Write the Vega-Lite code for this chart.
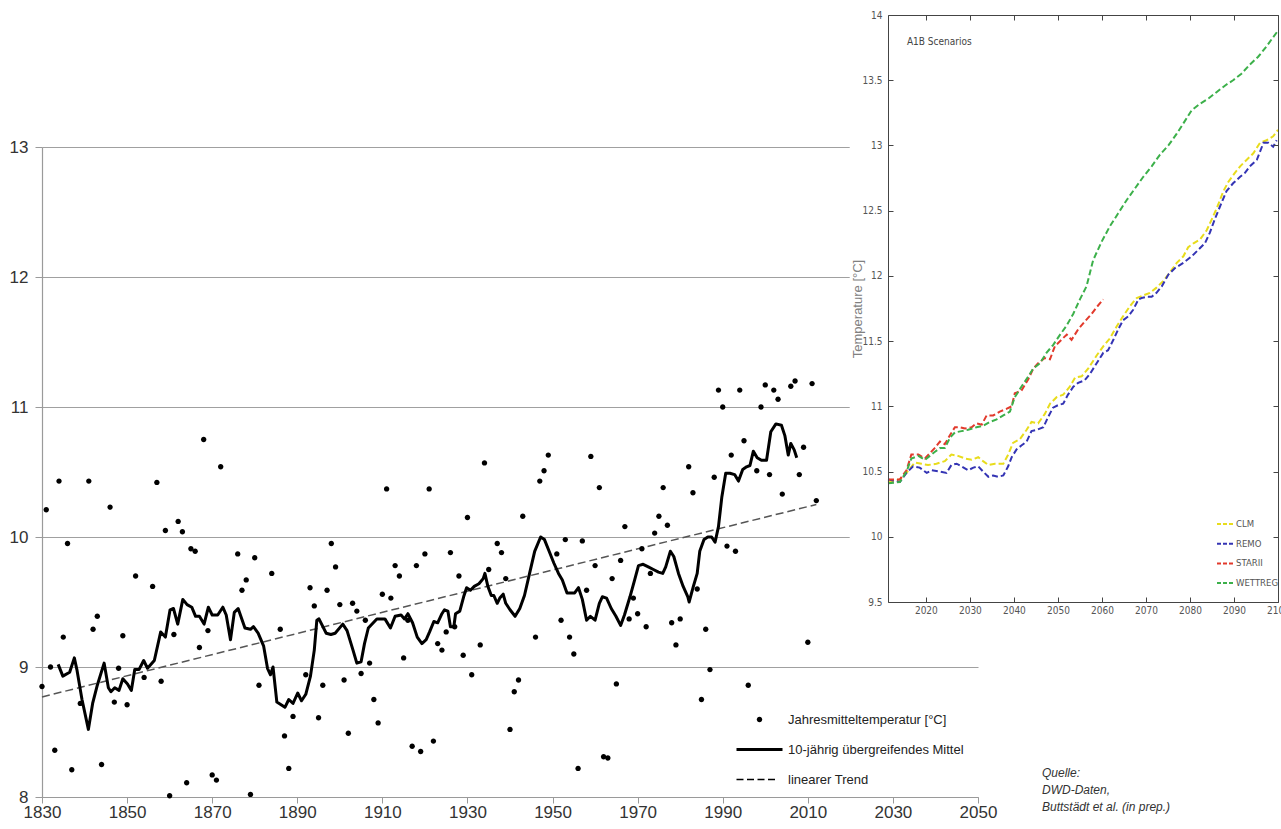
{
  "$schema": "https://vega.github.io/schema/vega-lite/v6.json",
  "width": 1236,
  "height": 782,
  "autosize": {"type": "none"},
  "padding": {"left": 42, "top": 15, "right": 3, "bottom": 32},
  "background": "white",
  "view": {"stroke": null},
  "config": {"font": "Liberation Sans"},
  "title": {
    "text": ["Quelle:", "DWD-Daten,", "Buttstädt et al. (in prep.)"],
    "orient": "bottom",
    "anchor": "start",
    "frame": "group",
    "align": "left",
    "baseline": "top",
    "font": "Liberation Sans",
    "fontStyle": "italic",
    "fontWeight": "normal",
    "fontSize": 12,
    "color": "#333",
    "lineHeight": 17,
    "offset": 0,
    "dx": 1000,
    "dy": -52
  },
  "datasets": {
    "obs": [
      {"year": 1830, "temp": 8.85}, {"year": 1831, "temp": 10.21}, {"year": 1832, "temp": 9.0}, {"year": 1833, "temp": 8.36},
      {"year": 1834, "temp": 10.43}, {"year": 1835, "temp": 9.23}, {"year": 1836, "temp": 9.95}, {"year": 1837, "temp": 8.21},
      {"year": 1839, "temp": 8.72}, {"year": 1841, "temp": 10.43}, {"year": 1842, "temp": 9.29}, {"year": 1843, "temp": 9.39},
      {"year": 1844, "temp": 8.25}, {"year": 1846, "temp": 10.23}, {"year": 1847, "temp": 8.73}, {"year": 1848, "temp": 8.99},
      {"year": 1849, "temp": 9.24}, {"year": 1850, "temp": 8.71}, {"year": 1852, "temp": 9.7}, {"year": 1854, "temp": 8.92},
      {"year": 1856, "temp": 9.62}, {"year": 1857, "temp": 10.42}, {"year": 1858, "temp": 8.89}, {"year": 1859, "temp": 10.05},
      {"year": 1860, "temp": 8.01}, {"year": 1861, "temp": 9.25}, {"year": 1862, "temp": 10.12}, {"year": 1863, "temp": 10.04},
      {"year": 1864, "temp": 8.11}, {"year": 1865, "temp": 9.91}, {"year": 1866, "temp": 9.89}, {"year": 1867, "temp": 9.15},
      {"year": 1868, "temp": 10.75}, {"year": 1869, "temp": 9.28}, {"year": 1870, "temp": 8.17}, {"year": 1871, "temp": 8.13},
      {"year": 1872, "temp": 10.54}, {"year": 1876, "temp": 9.87}, {"year": 1877, "temp": 9.59}, {"year": 1878, "temp": 9.67},
      {"year": 1879, "temp": 8.02}, {"year": 1880, "temp": 9.84}, {"year": 1881, "temp": 8.86}, {"year": 1884, "temp": 9.72},
      {"year": 1886, "temp": 9.29}, {"year": 1887, "temp": 8.47}, {"year": 1888, "temp": 8.22}, {"year": 1889, "temp": 8.62},
      {"year": 1892, "temp": 8.94}, {"year": 1893, "temp": 9.61}, {"year": 1894, "temp": 9.47}, {"year": 1895, "temp": 8.61},
      {"year": 1896, "temp": 8.86}, {"year": 1897, "temp": 9.59}, {"year": 1898, "temp": 9.95}, {"year": 1899, "temp": 9.77},
      {"year": 1900, "temp": 9.48}, {"year": 1901, "temp": 8.9}, {"year": 1902, "temp": 8.49}, {"year": 1903, "temp": 9.49},
      {"year": 1904, "temp": 9.43}, {"year": 1905, "temp": 8.95}, {"year": 1906, "temp": 9.36}, {"year": 1907, "temp": 9.03},
      {"year": 1908, "temp": 8.75}, {"year": 1909, "temp": 8.57}, {"year": 1910, "temp": 9.56}, {"year": 1911, "temp": 10.37},
      {"year": 1912, "temp": 9.53}, {"year": 1913, "temp": 9.78}, {"year": 1914, "temp": 9.7}, {"year": 1915, "temp": 9.07},
      {"year": 1916, "temp": 9.36}, {"year": 1917, "temp": 8.39}, {"year": 1918, "temp": 9.78}, {"year": 1919, "temp": 8.35},
      {"year": 1920, "temp": 9.87}, {"year": 1921, "temp": 10.37}, {"year": 1922, "temp": 8.43}, {"year": 1923, "temp": 9.18},
      {"year": 1924, "temp": 9.13}, {"year": 1925, "temp": 9.27}, {"year": 1926, "temp": 9.88}, {"year": 1927, "temp": 9.31},
      {"year": 1928, "temp": 9.7}, {"year": 1929, "temp": 9.09}, {"year": 1930, "temp": 10.15}, {"year": 1931, "temp": 8.94},
      {"year": 1933, "temp": 9.17}, {"year": 1934, "temp": 10.57}, {"year": 1935, "temp": 9.75}, {"year": 1937, "temp": 9.95},
      {"year": 1938, "temp": 9.88}, {"year": 1939, "temp": 9.68}, {"year": 1940, "temp": 8.52}, {"year": 1941, "temp": 8.81},
      {"year": 1942, "temp": 8.9}, {"year": 1943, "temp": 10.16}, {"year": 1946, "temp": 9.23}, {"year": 1947, "temp": 10.43},
      {"year": 1948, "temp": 10.51}, {"year": 1949, "temp": 10.63}, {"year": 1951, "temp": 9.87}, {"year": 1952, "temp": 9.36},
      {"year": 1953, "temp": 9.98}, {"year": 1954, "temp": 9.23}, {"year": 1955, "temp": 9.1}, {"year": 1956, "temp": 8.22},
      {"year": 1957, "temp": 9.97}, {"year": 1958, "temp": 9.59}, {"year": 1959, "temp": 10.62}, {"year": 1960, "temp": 9.78},
      {"year": 1961, "temp": 10.38}, {"year": 1962, "temp": 8.31}, {"year": 1963, "temp": 8.3}, {"year": 1964, "temp": 9.68},
      {"year": 1965, "temp": 8.87}, {"year": 1966, "temp": 9.82}, {"year": 1967, "temp": 10.08}, {"year": 1968, "temp": 9.37},
      {"year": 1969, "temp": 9.53}, {"year": 1970, "temp": 9.41}, {"year": 1971, "temp": 9.91}, {"year": 1972, "temp": 9.31},
      {"year": 1973, "temp": 9.72}, {"year": 1974, "temp": 10.03}, {"year": 1975, "temp": 10.16}, {"year": 1976, "temp": 10.38},
      {"year": 1977, "temp": 10.09}, {"year": 1978, "temp": 9.34}, {"year": 1979, "temp": 9.17}, {"year": 1980, "temp": 9.37},
      {"year": 1982, "temp": 10.54}, {"year": 1983, "temp": 10.34}, {"year": 1984, "temp": 9.6}, {"year": 1985, "temp": 8.75},
      {"year": 1986, "temp": 9.29}, {"year": 1987, "temp": 8.98}, {"year": 1988, "temp": 10.46}, {"year": 1989, "temp": 11.13},
      {"year": 1990, "temp": 11.0}, {"year": 1991, "temp": 9.93}, {"year": 1992, "temp": 10.63}, {"year": 1993, "temp": 9.89},
      {"year": 1994, "temp": 11.13}, {"year": 1995, "temp": 10.74}, {"year": 1996, "temp": 8.86}, {"year": 1998, "temp": 10.51},
      {"year": 1999, "temp": 11.0}, {"year": 2000, "temp": 11.17}, {"year": 2001, "temp": 10.48}, {"year": 2002, "temp": 11.13},
      {"year": 2003, "temp": 11.06}, {"year": 2004, "temp": 10.33}, {"year": 2006, "temp": 11.16}, {"year": 2007, "temp": 11.2},
      {"year": 2008, "temp": 10.48}, {"year": 2009, "temp": 10.69}, {"year": 2010, "temp": 9.19}, {"year": 2011, "temp": 11.18},
      {"year": 2012, "temp": 10.28}
    ],
    "ma": [
      {"year": 1833.8, "temp": 9.02}, {"year": 1834.9, "temp": 8.93}, {"year": 1836.5, "temp": 8.96}, {"year": 1837.6, "temp": 9.07},
      {"year": 1838.2, "temp": 8.98}, {"year": 1839.4, "temp": 8.75}, {"year": 1840.9, "temp": 8.52}, {"year": 1841.9, "temp": 8.72},
      {"year": 1843.0, "temp": 8.86}, {"year": 1844.6, "temp": 9.03}, {"year": 1845.6, "temp": 8.84}, {"year": 1846.2, "temp": 8.81},
      {"year": 1847.1, "temp": 8.84}, {"year": 1848.1, "temp": 8.82}, {"year": 1849.0, "temp": 8.91}, {"year": 1850.1, "temp": 8.87},
      {"year": 1851.0, "temp": 8.82}, {"year": 1851.8, "temp": 8.98}, {"year": 1852.8, "temp": 8.98}, {"year": 1853.9, "temp": 9.05},
      {"year": 1854.8, "temp": 8.99}, {"year": 1856.4, "temp": 9.05}, {"year": 1857.9, "temp": 9.27}, {"year": 1859.0, "temp": 9.23},
      {"year": 1860.1, "temp": 9.44}, {"year": 1860.9, "temp": 9.45}, {"year": 1861.9, "temp": 9.33}, {"year": 1863.1, "temp": 9.52},
      {"year": 1864.1, "temp": 9.48}, {"year": 1865.2, "temp": 9.46}, {"year": 1866.1, "temp": 9.39}, {"year": 1867.0, "temp": 9.39},
      {"year": 1868.1, "temp": 9.33}, {"year": 1869.1, "temp": 9.46}, {"year": 1870.0, "temp": 9.4}, {"year": 1871.3, "temp": 9.4},
      {"year": 1872.5, "temp": 9.46}, {"year": 1873.3, "temp": 9.4}, {"year": 1874.3, "temp": 9.21}, {"year": 1875.2, "temp": 9.42},
      {"year": 1876.1, "temp": 9.45}, {"year": 1877.7, "temp": 9.3}, {"year": 1879.0, "temp": 9.29}, {"year": 1879.7, "temp": 9.31},
      {"year": 1880.8, "temp": 9.26}, {"year": 1882.1, "temp": 9.16}, {"year": 1883.0, "temp": 8.99}, {"year": 1883.7, "temp": 8.94},
      {"year": 1884.3, "temp": 9.0}, {"year": 1884.9, "temp": 8.82}, {"year": 1885.2, "temp": 8.73}, {"year": 1887.1, "temp": 8.69},
      {"year": 1888.0, "temp": 8.75}, {"year": 1889.0, "temp": 8.72}, {"year": 1890.1, "temp": 8.8}, {"year": 1891.0, "temp": 8.74},
      {"year": 1892.0, "temp": 8.79}, {"year": 1893.1, "temp": 8.93}, {"year": 1894.0, "temp": 9.13}, {"year": 1894.6, "temp": 9.36},
      {"year": 1895.1, "temp": 9.37}, {"year": 1896.8, "temp": 9.26}, {"year": 1897.9, "temp": 9.25}, {"year": 1898.9, "temp": 9.26},
      {"year": 1900.7, "temp": 9.33}, {"year": 1901.7, "temp": 9.28}, {"year": 1903.1, "temp": 9.13}, {"year": 1904.0, "temp": 9.03},
      {"year": 1905.0, "temp": 9.04}, {"year": 1905.8, "temp": 9.18}, {"year": 1906.7, "temp": 9.3}, {"year": 1908.7, "temp": 9.37},
      {"year": 1910.6, "temp": 9.37}, {"year": 1911.9, "temp": 9.3}, {"year": 1913.0, "temp": 9.39}, {"year": 1914.4, "temp": 9.4},
      {"year": 1915.2, "temp": 9.37}, {"year": 1916.0, "temp": 9.41}, {"year": 1917.1, "temp": 9.34}, {"year": 1918.2, "temp": 9.23},
      {"year": 1919.3, "temp": 9.18}, {"year": 1920.3, "temp": 9.21}, {"year": 1921.1, "temp": 9.27}, {"year": 1922.1, "temp": 9.35},
      {"year": 1923.0, "temp": 9.34}, {"year": 1924.0, "temp": 9.41}, {"year": 1924.6, "temp": 9.44}, {"year": 1925.4, "temp": 9.43},
      {"year": 1926.0, "temp": 9.31}, {"year": 1926.8, "temp": 9.31}, {"year": 1927.2, "temp": 9.41}, {"year": 1928.2, "temp": 9.43},
      {"year": 1929.1, "temp": 9.54}, {"year": 1929.8, "temp": 9.61}, {"year": 1930.7, "temp": 9.59}, {"year": 1931.6, "temp": 9.62},
      {"year": 1932.7, "temp": 9.64}, {"year": 1933.7, "temp": 9.68}, {"year": 1934.1, "temp": 9.72}, {"year": 1934.8, "temp": 9.62},
      {"year": 1935.6, "temp": 9.55}, {"year": 1936.2, "temp": 9.55}, {"year": 1937.0, "temp": 9.49}, {"year": 1937.6, "temp": 9.53},
      {"year": 1938.4, "temp": 9.56}, {"year": 1939.0, "temp": 9.49}, {"year": 1940.0, "temp": 9.44}, {"year": 1941.2, "temp": 9.39},
      {"year": 1942.3, "temp": 9.45}, {"year": 1943.4, "temp": 9.55}, {"year": 1944.6, "temp": 9.72}, {"year": 1945.8, "temp": 9.89},
      {"year": 1947.2, "temp": 10.0}, {"year": 1948.1, "temp": 9.98}, {"year": 1949.2, "temp": 9.89}, {"year": 1950.3, "temp": 9.8},
      {"year": 1951.4, "temp": 9.72}, {"year": 1952.3, "temp": 9.67}, {"year": 1953.4, "temp": 9.57}, {"year": 1955.2, "temp": 9.57},
      {"year": 1956.1, "temp": 9.61}, {"year": 1957.0, "temp": 9.52}, {"year": 1958.0, "temp": 9.36}, {"year": 1958.9, "temp": 9.39},
      {"year": 1960.0, "temp": 9.36}, {"year": 1961.0, "temp": 9.49}, {"year": 1961.7, "temp": 9.54}, {"year": 1962.7, "temp": 9.53},
      {"year": 1963.8, "temp": 9.45}, {"year": 1964.9, "temp": 9.39}, {"year": 1966.0, "temp": 9.32}, {"year": 1966.9, "temp": 9.4},
      {"year": 1968.2, "temp": 9.54}, {"year": 1969.3, "temp": 9.67}, {"year": 1970.2, "temp": 9.78}, {"year": 1971.3, "temp": 9.79},
      {"year": 1972.5, "temp": 9.77}, {"year": 1973.7, "temp": 9.75}, {"year": 1974.9, "temp": 9.73}, {"year": 1975.9, "temp": 9.72},
      {"year": 1976.6, "temp": 9.77}, {"year": 1977.7, "temp": 9.89}, {"year": 1978.5, "temp": 9.85}, {"year": 1979.6, "temp": 9.72},
      {"year": 1980.7, "temp": 9.62}, {"year": 1981.8, "temp": 9.54}, {"year": 1982.1, "temp": 9.5}, {"year": 1983.1, "temp": 9.62},
      {"year": 1984.0, "temp": 9.72}, {"year": 1984.6, "temp": 9.89}, {"year": 1985.6, "temp": 9.98}, {"year": 1986.5, "temp": 10.0},
      {"year": 1987.4, "temp": 10.0}, {"year": 1988.2, "temp": 9.96}, {"year": 1989.0, "temp": 10.08}, {"year": 1989.8, "temp": 10.31},
      {"year": 1990.7, "temp": 10.49}, {"year": 1991.7, "temp": 10.49}, {"year": 1992.8, "temp": 10.48}, {"year": 1993.7, "temp": 10.43},
      {"year": 1994.7, "temp": 10.52}, {"year": 1995.6, "temp": 10.54}, {"year": 1996.4, "temp": 10.55}, {"year": 1997.2, "temp": 10.66},
      {"year": 1998.1, "temp": 10.61}, {"year": 1999.1, "temp": 10.59}, {"year": 2000.3, "temp": 10.59}, {"year": 2001.3, "temp": 10.81},
      {"year": 2002.5, "temp": 10.87}, {"year": 2003.8, "temp": 10.86}, {"year": 2004.6, "temp": 10.78}, {"year": 2005.4, "temp": 10.63},
      {"year": 2006.0, "temp": 10.72}, {"year": 2006.8, "temp": 10.67}, {"year": 2007.4, "temp": 10.61}
    ],
    "trend": [{"year": 1830, "temp": 8.77}, {"year": 2012, "temp": 10.25}],
    "scen": [
      {"model": "CLM", "year": 2011.4, "temp": 10.42}, {"model": "CLM", "year": 2014.1, "temp": 10.44}, {"model": "CLM", "year": 2015.6, "temp": 10.49},
      {"model": "CLM", "year": 2017.5, "temp": 10.57}, {"model": "CLM", "year": 2019.0, "temp": 10.56}, {"model": "CLM", "year": 2020.5, "temp": 10.55},
      {"model": "CLM", "year": 2022.4, "temp": 10.56}, {"model": "CLM", "year": 2024.3, "temp": 10.58}, {"model": "CLM", "year": 2025.8, "temp": 10.63},
      {"model": "CLM", "year": 2027.3, "temp": 10.62}, {"model": "CLM", "year": 2028.9, "temp": 10.6}, {"model": "CLM", "year": 2030.4, "temp": 10.59},
      {"model": "CLM", "year": 2031.9, "temp": 10.61}, {"model": "CLM", "year": 2033.0, "temp": 10.58}, {"model": "CLM", "year": 2034.2, "temp": 10.55},
      {"model": "CLM", "year": 2035.7, "temp": 10.56}, {"model": "CLM", "year": 2037.6, "temp": 10.56}, {"model": "CLM", "year": 2038.7, "temp": 10.63},
      {"model": "CLM", "year": 2039.8, "temp": 10.72}, {"model": "CLM", "year": 2041.4, "temp": 10.75}, {"model": "CLM", "year": 2042.9, "temp": 10.82},
      {"model": "CLM", "year": 2044.0, "temp": 10.88}, {"model": "CLM", "year": 2045.5, "temp": 10.87}, {"model": "CLM", "year": 2047.0, "temp": 10.94},
      {"model": "CLM", "year": 2048.2, "temp": 11.02}, {"model": "CLM", "year": 2049.7, "temp": 11.07}, {"model": "CLM", "year": 2051.2, "temp": 11.09},
      {"model": "CLM", "year": 2052.7, "temp": 11.15}, {"model": "CLM", "year": 2053.9, "temp": 11.22}, {"model": "CLM", "year": 2055.4, "temp": 11.23},
      {"model": "CLM", "year": 2056.9, "temp": 11.29}, {"model": "CLM", "year": 2058.8, "temp": 11.39}, {"model": "CLM", "year": 2060.3, "temp": 11.46},
      {"model": "CLM", "year": 2061.8, "temp": 11.52}, {"model": "CLM", "year": 2063.3, "temp": 11.61}, {"model": "CLM", "year": 2064.8, "temp": 11.69},
      {"model": "CLM", "year": 2066.4, "temp": 11.77}, {"model": "CLM", "year": 2067.9, "temp": 11.83}, {"model": "CLM", "year": 2069.4, "temp": 11.85},
      {"model": "CLM", "year": 2070.9, "temp": 11.87}, {"model": "CLM", "year": 2072.4, "temp": 11.91}, {"model": "CLM", "year": 2073.9, "temp": 11.96},
      {"model": "CLM", "year": 2075.5, "temp": 12.03}, {"model": "CLM", "year": 2077.0, "temp": 12.1}, {"model": "CLM", "year": 2078.5, "temp": 12.15},
      {"model": "CLM", "year": 2079.6, "temp": 12.22}, {"model": "CLM", "year": 2080.8, "temp": 12.25}, {"model": "CLM", "year": 2082.3, "temp": 12.28},
      {"model": "CLM", "year": 2083.8, "temp": 12.35}, {"model": "CLM", "year": 2084.9, "temp": 12.43}, {"model": "CLM", "year": 2086.1, "temp": 12.52},
      {"model": "CLM", "year": 2087.6, "temp": 12.65}, {"model": "CLM", "year": 2088.7, "temp": 12.72}, {"model": "CLM", "year": 2090.2, "temp": 12.79},
      {"model": "CLM", "year": 2091.4, "temp": 12.84}, {"model": "CLM", "year": 2092.9, "temp": 12.89}, {"model": "CLM", "year": 2094.4, "temp": 12.94},
      {"model": "CLM", "year": 2095.9, "temp": 13.02}, {"model": "CLM", "year": 2097.4, "temp": 13.04}, {"model": "CLM", "year": 2098.9, "temp": 13.07},
      {"model": "CLM", "year": 2100.0, "temp": 13.12},
      {"model": "REMO", "year": 2011.4, "temp": 10.44}, {"model": "REMO", "year": 2014.1, "temp": 10.42}, {"model": "REMO", "year": 2015.6, "temp": 10.49},
      {"model": "REMO", "year": 2017.1, "temp": 10.54}, {"model": "REMO", "year": 2018.6, "temp": 10.53}, {"model": "REMO", "year": 2020.2, "temp": 10.49},
      {"model": "REMO", "year": 2021.3, "temp": 10.51}, {"model": "REMO", "year": 2023.2, "temp": 10.5}, {"model": "REMO", "year": 2024.7, "temp": 10.49},
      {"model": "REMO", "year": 2025.8, "temp": 10.55}, {"model": "REMO", "year": 2027.0, "temp": 10.56}, {"model": "REMO", "year": 2028.1, "temp": 10.54},
      {"model": "REMO", "year": 2029.6, "temp": 10.51}, {"model": "REMO", "year": 2030.8, "temp": 10.53}, {"model": "REMO", "year": 2031.9, "temp": 10.54},
      {"model": "REMO", "year": 2033.0, "temp": 10.5}, {"model": "REMO", "year": 2034.2, "temp": 10.46}, {"model": "REMO", "year": 2035.3, "temp": 10.47},
      {"model": "REMO", "year": 2036.4, "temp": 10.46}, {"model": "REMO", "year": 2037.6, "temp": 10.47}, {"model": "REMO", "year": 2038.7, "temp": 10.54},
      {"model": "REMO", "year": 2039.5, "temp": 10.61}, {"model": "REMO", "year": 2040.6, "temp": 10.67}, {"model": "REMO", "year": 2041.7, "temp": 10.7},
      {"model": "REMO", "year": 2042.9, "temp": 10.73}, {"model": "REMO", "year": 2044.0, "temp": 10.81}, {"model": "REMO", "year": 2045.2, "temp": 10.82},
      {"model": "REMO", "year": 2046.7, "temp": 10.84}, {"model": "REMO", "year": 2047.8, "temp": 10.92}, {"model": "REMO", "year": 2048.9, "temp": 10.99},
      {"model": "REMO", "year": 2050.1, "temp": 11.01}, {"model": "REMO", "year": 2051.2, "temp": 11.02}, {"model": "REMO", "year": 2052.3, "temp": 11.09},
      {"model": "REMO", "year": 2053.5, "temp": 11.15}, {"model": "REMO", "year": 2054.6, "temp": 11.18}, {"model": "REMO", "year": 2056.1, "temp": 11.2},
      {"model": "REMO", "year": 2057.3, "temp": 11.25}, {"model": "REMO", "year": 2058.8, "temp": 11.33}, {"model": "REMO", "year": 2060.3, "temp": 11.41},
      {"model": "REMO", "year": 2061.4, "temp": 11.43}, {"model": "REMO", "year": 2062.6, "temp": 11.51}, {"model": "REMO", "year": 2063.7, "temp": 11.59},
      {"model": "REMO", "year": 2064.8, "temp": 11.66}, {"model": "REMO", "year": 2066.0, "temp": 11.69}, {"model": "REMO", "year": 2067.1, "temp": 11.74},
      {"model": "REMO", "year": 2068.3, "temp": 11.82}, {"model": "REMO", "year": 2069.0, "temp": 11.83}, {"model": "REMO", "year": 2070.2, "temp": 11.84},
      {"model": "REMO", "year": 2071.3, "temp": 11.84}, {"model": "REMO", "year": 2072.4, "temp": 11.87}, {"model": "REMO", "year": 2073.6, "temp": 11.92},
      {"model": "REMO", "year": 2075.1, "temp": 12.01}, {"model": "REMO", "year": 2076.6, "temp": 12.06}, {"model": "REMO", "year": 2078.5, "temp": 12.1},
      {"model": "REMO", "year": 2080.4, "temp": 12.15}, {"model": "REMO", "year": 2081.9, "temp": 12.2}, {"model": "REMO", "year": 2083.4, "temp": 12.25},
      {"model": "REMO", "year": 2084.5, "temp": 12.33}, {"model": "REMO", "year": 2085.7, "temp": 12.44}, {"model": "REMO", "year": 2086.8, "temp": 12.53},
      {"model": "REMO", "year": 2088.3, "temp": 12.65}, {"model": "REMO", "year": 2089.8, "temp": 12.71}, {"model": "REMO", "year": 2091.4, "temp": 12.76},
      {"model": "REMO", "year": 2092.5, "temp": 12.79}, {"model": "REMO", "year": 2093.6, "temp": 12.84}, {"model": "REMO", "year": 2095.2, "temp": 12.89},
      {"model": "REMO", "year": 2096.7, "temp": 13.02}, {"model": "REMO", "year": 2097.8, "temp": 13.02}, {"model": "REMO", "year": 2098.9, "temp": 12.99},
      {"model": "REMO", "year": 2099.7, "temp": 13.04},
      {"model": "STARII", "year": 2011.4, "temp": 10.44}, {"model": "STARII", "year": 2014.1, "temp": 10.44}, {"model": "STARII", "year": 2015.6, "temp": 10.51},
      {"model": "STARII", "year": 2016.7, "temp": 10.63}, {"model": "STARII", "year": 2018.3, "temp": 10.63}, {"model": "STARII", "year": 2019.8, "temp": 10.6},
      {"model": "STARII", "year": 2020.9, "temp": 10.64}, {"model": "STARII", "year": 2022.0, "temp": 10.68}, {"model": "STARII", "year": 2023.2, "temp": 10.73},
      {"model": "STARII", "year": 2024.3, "temp": 10.71}, {"model": "STARII", "year": 2025.5, "temp": 10.78}, {"model": "STARII", "year": 2026.6, "temp": 10.84},
      {"model": "STARII", "year": 2027.7, "temp": 10.84}, {"model": "STARII", "year": 2028.9, "temp": 10.83}, {"model": "STARII", "year": 2030.4, "temp": 10.84},
      {"model": "STARII", "year": 2031.5, "temp": 10.87}, {"model": "STARII", "year": 2032.7, "temp": 10.86}, {"model": "STARII", "year": 2033.8, "temp": 10.93},
      {"model": "STARII", "year": 2035.3, "temp": 10.93}, {"model": "STARII", "year": 2036.8, "temp": 10.96}, {"model": "STARII", "year": 2038.3, "temp": 10.98},
      {"model": "STARII", "year": 2039.5, "temp": 11.0}, {"model": "STARII", "year": 2040.2, "temp": 11.1}, {"model": "STARII", "year": 2041.7, "temp": 11.12},
      {"model": "STARII", "year": 2043.3, "temp": 11.21}, {"model": "STARII", "year": 2044.4, "temp": 11.29}, {"model": "STARII", "year": 2045.5, "temp": 11.33},
      {"model": "STARII", "year": 2047.0, "temp": 11.37}, {"model": "STARII", "year": 2048.2, "temp": 11.36}, {"model": "STARII", "year": 2049.3, "temp": 11.46},
      {"model": "STARII", "year": 2050.8, "temp": 11.51}, {"model": "STARII", "year": 2052.0, "temp": 11.55}, {"model": "STARII", "year": 2053.1, "temp": 11.51},
      {"model": "STARII", "year": 2054.6, "temp": 11.59}, {"model": "STARII", "year": 2056.1, "temp": 11.65}, {"model": "STARII", "year": 2057.7, "temp": 11.71},
      {"model": "STARII", "year": 2058.8, "temp": 11.76}, {"model": "STARII", "year": 2060.3, "temp": 11.82},
      {"model": "WETTREG", "year": 2011.4, "temp": 10.41}, {"model": "WETTREG", "year": 2014.1, "temp": 10.42}, {"model": "WETTREG", "year": 2015.6, "temp": 10.5},
      {"model": "WETTREG", "year": 2016.7, "temp": 10.6}, {"model": "WETTREG", "year": 2018.3, "temp": 10.62}, {"model": "WETTREG", "year": 2019.8, "temp": 10.59},
      {"model": "WETTREG", "year": 2020.9, "temp": 10.62}, {"model": "WETTREG", "year": 2022.0, "temp": 10.65}, {"model": "WETTREG", "year": 2023.2, "temp": 10.68},
      {"model": "WETTREG", "year": 2024.3, "temp": 10.68}, {"model": "WETTREG", "year": 2025.5, "temp": 10.76}, {"model": "WETTREG", "year": 2026.6, "temp": 10.8},
      {"model": "WETTREG", "year": 2028.1, "temp": 10.81}, {"model": "WETTREG", "year": 2029.6, "temp": 10.82}, {"model": "WETTREG", "year": 2031.5, "temp": 10.84},
      {"model": "WETTREG", "year": 2033.0, "temp": 10.85}, {"model": "WETTREG", "year": 2034.5, "temp": 10.88}, {"model": "WETTREG", "year": 2036.1, "temp": 10.9},
      {"model": "WETTREG", "year": 2037.6, "temp": 10.93}, {"model": "WETTREG", "year": 2039.1, "temp": 10.96}, {"model": "WETTREG", "year": 2040.2, "temp": 11.07},
      {"model": "WETTREG", "year": 2041.7, "temp": 11.15}, {"model": "WETTREG", "year": 2043.3, "temp": 11.23}, {"model": "WETTREG", "year": 2044.4, "temp": 11.29},
      {"model": "WETTREG", "year": 2045.9, "temp": 11.33}, {"model": "WETTREG", "year": 2047.4, "temp": 11.41}, {"model": "WETTREG", "year": 2048.9, "temp": 11.47},
      {"model": "WETTREG", "year": 2050.5, "temp": 11.55}, {"model": "WETTREG", "year": 2052.0, "temp": 11.62}, {"model": "WETTREG", "year": 2053.5, "temp": 11.71},
      {"model": "WETTREG", "year": 2055.0, "temp": 11.82}, {"model": "WETTREG", "year": 2056.5, "temp": 11.92}, {"model": "WETTREG", "year": 2058.0, "temp": 12.12},
      {"model": "WETTREG", "year": 2059.9, "temp": 12.26}, {"model": "WETTREG", "year": 2061.8, "temp": 12.38}, {"model": "WETTREG", "year": 2063.7, "temp": 12.48},
      {"model": "WETTREG", "year": 2065.6, "temp": 12.58}, {"model": "WETTREG", "year": 2067.5, "temp": 12.67}, {"model": "WETTREG", "year": 2069.4, "temp": 12.76},
      {"model": "WETTREG", "year": 2071.3, "temp": 12.84}, {"model": "WETTREG", "year": 2073.2, "temp": 12.93}, {"model": "WETTREG", "year": 2075.1, "temp": 13.0},
      {"model": "WETTREG", "year": 2077.0, "temp": 13.09}, {"model": "WETTREG", "year": 2078.9, "temp": 13.19}, {"model": "WETTREG", "year": 2080.4, "temp": 13.27},
      {"model": "WETTREG", "year": 2082.3, "temp": 13.32}, {"model": "WETTREG", "year": 2084.2, "temp": 13.36}, {"model": "WETTREG", "year": 2086.1, "temp": 13.41},
      {"model": "WETTREG", "year": 2088.0, "temp": 13.46}, {"model": "WETTREG", "year": 2089.8, "temp": 13.5}, {"model": "WETTREG", "year": 2091.7, "temp": 13.55},
      {"model": "WETTREG", "year": 2093.6, "temp": 13.62}, {"model": "WETTREG", "year": 2095.5, "temp": 13.68}, {"model": "WETTREG", "year": 2097.4, "temp": 13.76},
      {"model": "WETTREG", "year": 2098.9, "temp": 13.83}, {"model": "WETTREG", "year": 2100.0, "temp": 13.88}
    ]
  },
  "layer": [
    {
      "layer": [
        {
          "data": {"name": "trend"},
          "mark": {"type": "line", "color": "#555555", "strokeWidth": 1.5, "strokeDash": [8, 4]},
          "encoding": {
            "x": {
              "field": "year", "type": "quantitative", "title": null,
              "scale": {"domain": [1830, 2050], "range": [0, 936], "nice": false, "zero": false},
              "axis": {
                "orient": "bottom", "values": [1830, 1850, 1870, 1890, 1910, 1930, 1950, 1970, 1990, 2010, 2030, 2050],
                "format": "d", "grid": false, "title": null, "labelFlush": false, "labelOverlap": false,
                "labelFont": "Liberation Sans", "labelFontSize": 17, "labelColor": "#333333", "labelPadding": 1,
                "domainColor": "#9a9a9a", "domainWidth": 1.2, "tickColor": "#9a9a9a", "tickSize": 6, "zindex": 0
              }
            },
            "y": {
              "field": "temp", "type": "quantitative", "title": null,
              "scale": {"domain": [8, 13], "range": [782, 132], "nice": false, "zero": false},
              "axis": {
                "orient": "left", "values": [8, 9, 10, 11, 12, 13], "format": "d", "grid": true,
                "gridColor": "#a0a0a0", "gridWidth": 1.2, "title": null, "labelFlush": false, "labelOverlap": false,
                "labelFont": "Liberation Sans", "labelFontSize": 17, "labelColor": "#333333", "labelPadding": 7,
                "domainColor": "#9a9a9a", "domainWidth": 1.2, "tickColor": "#9a9a9a", "tickSize": 7, "zindex": 0
              }
            }
          }
        },
        {
          "data": {"name": "ma"},
          "mark": {"type": "line", "color": "#000000", "strokeWidth": 3, "strokeJoin": "round"},
          "encoding": {
            "x": {"field": "year", "type": "quantitative", "title": null},
            "y": {"field": "temp", "type": "quantitative", "title": null}
          }
        },
        {
          "data": {"name": "obs"},
          "mark": {"type": "point", "filled": true, "color": "#000000", "opacity": 1, "size": 100, "strokeWidth": 0},
          "encoding": {
            "x": {"field": "year", "type": "quantitative", "title": null},
            "y": {"field": "temp", "type": "quantitative", "title": null},
            "shape": {
              "datum": "Jahresmitteltemperatur [°C]", "type": "nominal",
              "scale": {
                "domain": ["Jahresmitteltemperatur [°C]", "10-jährig übergreifendes Mittel", "linearer Trend"],
                "range": [
                  "M-0.54,0A0.54,0.54,0,1,0,0.54,0A0.54,0.54,0,1,0,-0.54,0Z",
                  "M-4.6,-0.3H4.6V0.3H-4.6Z",
                  "M-4.6,-0.14H-3.2V0.14H-4.6Z M-2.5,-0.14H-1.1V0.14H-2.5Z M-0.4,-0.14H1V0.14H-0.4Z M1.7,-0.14H3.1V0.14H1.7Z"
                ]
              },
              "legend": {
                "orient": "none", "legendX": 711, "legendY": 698, "title": null, "padding": 0,
                "symbolSize": 100, "symbolFillColor": "#000000", "symbolStrokeWidth": 0, "symbolOpacity": 1,
                "labelFont": "Liberation Sans", "labelFontSize": 13, "labelColor": "#222222",
                "labelOffset": 22, "rowPadding": 16, "labelLimit": 400
              }
            }
          }
        }
      ]
    },
    {
      "data": {"values": [{"x0": 2002.7, "x1": 2101, "y0": 9.28, "y1": 14.2}]},
      "mark": {"type": "rect", "fill": "#ffffff", "strokeWidth": 0},
      "encoding": {
        "x": {
          "field": "x0", "type": "quantitative", "title": null,
          "scale": {"domain": [2011.4, 2100], "range": [846, 1236], "nice": false, "zero": false},
          "axis": {
            "orient": "top", "values": [2020, 2030, 2040, 2050, 2060, 2070, 2080, 2090, 2100],
            "labels": false, "grid": false, "title": null, "tickSize": -5,
            "domainColor": "#444444", "tickColor": "#444444", "zindex": 1
          }
        },
        "x2": {"field": "x1"},
        "y": {
          "field": "y0", "type": "quantitative", "title": null,
          "scale": {"domain": [9.5, 14], "range": [587, 0], "nice": false, "zero": false},
          "axis": {
            "orient": "right", "values": [9.5, 10, 10.5, 11, 11.5, 12, 12.5, 13, 13.5, 14],
            "labels": false, "grid": false, "title": null, "tickSize": -5,
            "domainColor": "#444444", "tickColor": "#444444", "zindex": 1
          }
        },
        "y2": {"field": "y1"}
      }
    },
    {
      "layer": [
        {
          "data": {"name": "scen"},
          "mark": {"type": "line", "strokeWidth": 2, "strokeDash": [6, 3]},
          "encoding": {
            "x": {
              "field": "year", "type": "quantitative", "title": null,
              "scale": {"domain": [2011.4, 2100], "range": [846, 1236], "nice": false, "zero": false},
              "axis": {
                "orient": "bottom", "offset": -195, "values": [2020, 2030, 2040, 2050, 2060, 2070, 2080, 2090, 2100],
                "format": "d", "grid": false, "title": null, "tickSize": -5, "labelPadding": 8,
                "labelFlush": false, "labelOverlap": false,
                "labelFont": "Liberation Sans Narrow, DejaVu Sans Condensed, Liberation Sans, sans-serif", "labelFontSize": 10, "labelColor": "#555555",
                "domainColor": "#444444", "tickColor": "#444444", "zindex": 1
              }
            },
            "y": {
              "field": "temp", "type": "quantitative", "title": "Temperature [°C]",
              "scale": {"domain": [9.5, 14], "range": [587, 0], "nice": false, "zero": false},
              "axis": {
                "orient": "left", "offset": -846, "values": [9.5, 10, 10.5, 11, 11.5, 12, 12.5, 13, 13.5, 14],
                "format": "~g", "grid": false, "tickSize": -5, "labelPadding": 11,
                "labelFlush": false, "labelOverlap": false,
                "labelFont": "Liberation Sans Narrow, DejaVu Sans Condensed, Liberation Sans, sans-serif", "labelFontSize": 10, "labelColor": "#555555",
                "domainColor": "#444444", "tickColor": "#444444", "zindex": 1,
                "title": "Temperature [°C]", "titleFont": "Liberation Sans", "titleFontSize": 13,
                "titleFontWeight": "normal", "titleColor": "#808080", "titlePadding": -3
              }
            },
            "color": {
              "field": "model", "type": "nominal",
              "scale": {"domain": ["CLM", "REMO", "STARII", "WETTREG"], "range": ["#e8dc1c", "#3434b4", "#e23a2c", "#3cb04a"]},
              "legend": {
                "orient": "none", "legendX": 1174, "legendY": 500, "title": null, "padding": 0,
                "symbolType": "stroke", "symbolSize": 256, "symbolStrokeWidth": 2, "symbolDash": [4, 2],
                "labelFont": "Liberation Sans Narrow, DejaVu Sans Condensed, Liberation Sans, sans-serif", "labelFontSize": 9.5, "labelColor": "#555555",
                "labelOffset": 2, "rowPadding": 5.7
              }
            }
          }
        },
        {
          "data": {"values": [{"year": 2015.7, "temp": 13.79, "label": "A1B Scenarios"}]},
          "mark": {"type": "text", "align": "left", "baseline": "middle", "font": "Liberation Sans Narrow, DejaVu Sans Condensed, Liberation Sans, sans-serif", "fontSize": 10, "color": "#444444"},
          "encoding": {
            "x": {"field": "year", "type": "quantitative"},
            "y": {"field": "temp", "type": "quantitative"},
            "text": {"field": "label"}
          }
        }
      ]
    }
  ],
  "resolve": {
    "scale": {"x": "independent", "y": "independent"},
    "axis": {"x": "independent", "y": "independent"}
  }
}
